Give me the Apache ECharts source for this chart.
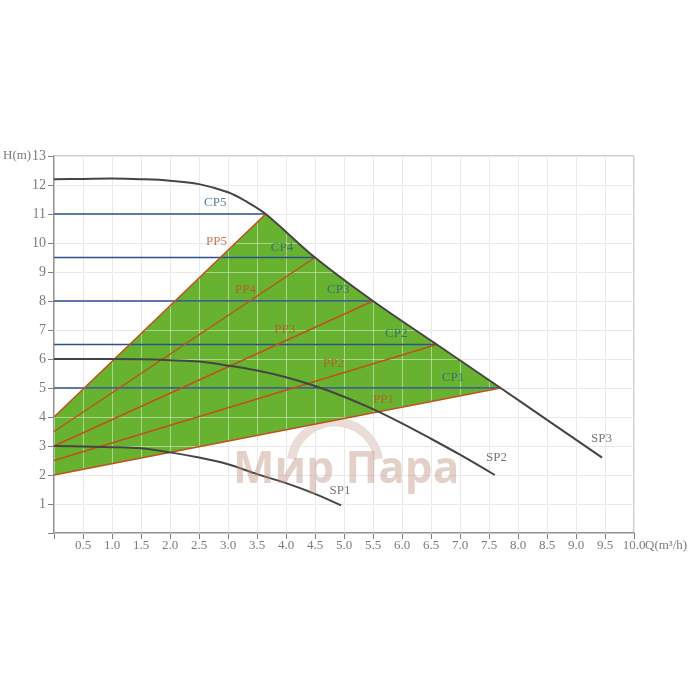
<!DOCTYPE html>
<html>
<head>
<meta charset="utf-8">
<script src="https://cdn.jsdelivr.net/npm/echarts@6/dist/echarts.min.js"></script>
<style>html,body{margin:0;padding:0;background:#fff}#c{width:700px;height:700px}</style>
</head>
<body>
<div id="c"></div>
<script>
// ---- data ----
var sp3Q = [0, 0.5, 1, 1.5, 2, 2.5, 3, 3.3, 3.65, 4.5, 5.5, 6.6, 7.7, 8.5, 9.45];
var sp3H = [12.2, 12.21, 12.22, 12.2, 12.15, 12.03, 11.75, 11.45, 11.0, 9.5, 8.0, 6.5, 5.0, 3.9, 2.6];
var sp2Q = [0, 0.5, 1, 1.5, 2, 2.5, 3, 3.5, 4, 4.5, 5, 5.5, 6, 6.5, 7, 7.6];
var sp2H = [6.0, 6.0, 6.0, 5.99, 5.96, 5.91, 5.77, 5.6, 5.37, 5.07, 4.7, 4.27, 3.78, 3.25, 2.7, 2.0];
var sp1Q = [0, 0.5, 1, 1.5, 2, 2.5, 3, 3.5, 4, 4.5, 4.95];
var sp1H = [3.0, 2.98, 2.96, 2.92, 2.78, 2.6, 2.37, 2.03, 1.72, 1.35, 0.95];
var cpNames = ['CP1', 'CP2', 'CP3', 'CP4', 'CP5'];
var cpH = [5, 6.5, 8, 9.5, 11];
var cpEndQ = [7.7, 6.6, 5.5, 4.5, 3.65];
var ppNames = ['PP1', 'PP2', 'PP3', 'PP4', 'PP5'];
var ppStartH = [2, 2.5, 3, 3.5, 4];
var cpLabelQ = [6.88, 5.9, 4.9, 3.93, 2.78];
var cpLabelH = [5.37, 6.86, 8.38, 9.85, 11.38];
var ppLabelQ = [5.68, 4.82, 3.98, 3.3, 2.8];
var ppLabelH = [4.61, 5.85, 7.02, 8.4, 10.05];
var spNames = ['SP1', 'SP2', 'SP3'];
var spLabelQ = [4.93, 7.63, 9.44];
var spLabelH = [1.48, 2.61, 3.27];
var xTicks = [0.5,1.0,1.5,2.0,2.5,3.0,3.5,4.0,4.5,5.0,5.5,6.0,6.5,7.0,7.5,8.0,8.5,9.0,9.5,10.0];
var yTicks = [1,2,3,4,5,6,7,8,9,10,11,12,13];

function zip(a, b) { return a.map(function (v, i) { return [v, b[i]]; }); }

// green region polygon: PP5 start -> top of curve -> PP1 end -> PP1 start
var region = [[0, ppStartH[4]]];
for (var i = 0; i < sp3Q.length; i++) {
  if (sp3Q[i] >= cpEndQ[4] && sp3Q[i] <= cpEndQ[0]) region.push([sp3Q[i], sp3H[i]]);
}
region.push([0, ppStartH[0]]);

var serif = "'Liberation Serif', 'DejaVu Serif', serif";
var series = [];
series.push({
  type: 'custom', z: 2, silent: true,
  renderItem: function (params, api) {
    var pts = region.map(function (p) { return api.coord(p); });
    return { type: 'polygon', shape: { points: pts }, style: { fill: '#67b32f' } };
  },
  data: [0]
});
for (var k = 0; k < 5; k++) {
  series.push({ type: 'line', z: 5, symbol: 'none', silent: true,
    lineStyle: { color: '#2f4f8e', width: 1.5 },
    data: [[0, cpH[k]], [cpEndQ[k], cpH[k]]] });
  series.push({ type: 'line', z: 5, symbol: 'none', silent: true,
    lineStyle: { color: '#c0501e', width: 1.5 },
    data: [[0, ppStartH[k]], [cpEndQ[k], cpH[k]]] });
}
[[sp1Q, sp1H], [sp2Q, sp2H], [sp3Q, sp3H]].forEach(function (s) {
  series.push({ type: 'line', z: 6, symbol: 'none', silent: true, smooth: 0.35,
    lineStyle: { color: '#454545', width: 2 }, data: zip(s[0], s[1]) });
});
function labelSeries(names, qs, hs, color) {
  return { type: 'scatter', z: 7, symbolSize: 0, silent: true,
    label: { show: true, position: 'inside', formatter: function (p) { return p.data[2]; },
      color: color, fontFamily: serif, fontSize: 13 },
    data: names.map(function (n, i) { return [qs[i], hs[i], n]; }) };
}
series.push(labelSeries(cpNames, cpLabelQ, cpLabelH, '#2e5f86'));
series.push(labelSeries(ppNames, ppLabelQ, ppLabelH, '#c2502a'));
series.push(labelSeries(spNames, spLabelQ, spLabelH, '#555555'));

var chart = echarts.init(document.getElementById('c'));
chart.setOption({
  backgroundColor: '#fff',
  animation: false,
  grid: { left: 54, right: 66, top: 156, bottom: 167, show: true, borderColor: '#9a9a9a', borderWidth: 1, backgroundColor: 'transparent' },
  xAxis: [{
    type: 'value', min: 0, max: 10, interval: 0.5,
    axisLine: { show: true, lineStyle: { color: '#808080', width: 1.5 } },
    axisTick: { show: true, length: 6, lineStyle: { color: '#808080' } },
    axisLabel: { color: '#7a7a7a', fontFamily: serif, fontSize: 13, margin: 6,
      formatter: function (v) { return xTicks.indexOf(v) >= 0 ? v.toFixed(1) : ''; } },
    splitLine: { show: true, lineStyle: { color: '#d8d8d8', width: 1 } }
  }, {
    type: 'value', min: 0, max: 10, interval: 0.5, position: 'top', z: 3,
    axisLine: { show: false }, axisTick: { show: false }, axisLabel: { show: false },
    splitLine: { show: true, lineStyle: { color: 'rgba(255,255,255,0.45)', width: 1 } }
  }],
  yAxis: [{
    type: 'value', min: 0, max: 13, interval: 1,
    axisLine: { show: true, lineStyle: { color: '#808080', width: 1.5 } },
    axisTick: { show: true, length: 6, lineStyle: { color: '#808080' } },
    axisLabel: { color: '#7a7a7a', fontFamily: serif, fontSize: 14, margin: 8,
      formatter: function (v) { return yTicks.indexOf(v) >= 0 ? String(v) : ''; } },
    splitLine: { show: true, lineStyle: { color: '#d8d8d8', width: 1 } }
  }, {
    type: 'value', min: 0, max: 13, interval: 1, position: 'right', z: 3,
    axisLine: { show: false }, axisTick: { show: false }, axisLabel: { show: false },
    splitLine: { show: true, lineStyle: { color: 'rgba(255,255,255,0.45)', width: 1 } }
  }],
  graphic: [
    { type: 'text', left: 3, top: 149, style: { text: 'H(m)', fill: '#7a7a7a', font: '13px ' + serif } },
    { type: 'text', left: 645, top: 539, style: { text: 'Q(m³/h)', fill: '#7a7a7a', font: '13px ' + serif } },
    { type: 'arc', z: 1, shape: { cx: 335, cy: 466, r: 44, startAngle: Math.PI * 1.05, endAngle: Math.PI * 1.95 },
      style: { stroke: 'rgba(185,140,120,0.3)', lineWidth: 9, fill: null } },
    { type: 'text', z: 8, left: 233, top: 448, style: { text: 'Мир Пара', fill: 'rgba(185,140,120,0.4)', font: 'bold 44px "Open Sans", "DejaVu Sans", sans-serif' } }
  ],
  series: series
});
</script>
</body>
</html>
